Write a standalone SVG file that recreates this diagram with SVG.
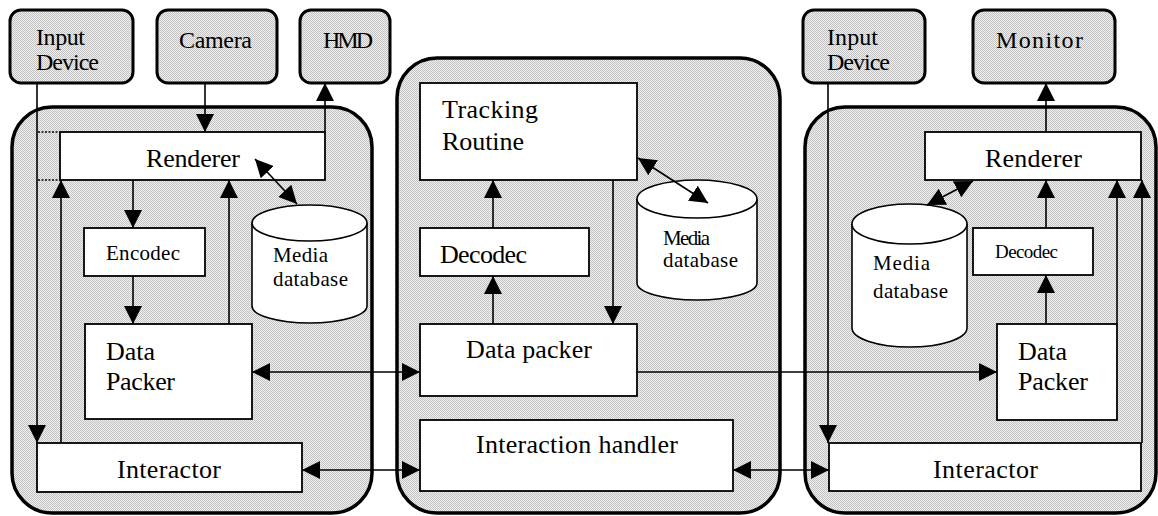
<svg xmlns="http://www.w3.org/2000/svg" width="1158" height="516" viewBox="0 0 1158 516">
  <defs>
    <!-- halftone grey fill used for devices and site containers -->
    <pattern id="dither" width="2" height="2" patternUnits="userSpaceOnUse">
      <rect width="2" height="2" fill="#f0f0f0"/>
      <rect width="1" height="1" fill="#c2c2c2"/>
      <rect x="1" y="1" width="1" height="1" fill="#c2c2c2"/>
    </pattern>
    <marker id="arrow" viewBox="0 0 18 18" refX="18" refY="9" markerWidth="18" markerHeight="18" markerUnits="userSpaceOnUse" orient="auto-start-reverse">
      <path d="M0,0 L18,9 L0,18 Z" fill="#000"/>
    </marker>
  </defs>
  <style>
    .site { fill: url(#dither); stroke: #000; stroke-width: 3.5; }
    .dev { fill: url(#dither); stroke: #000; stroke-width: 3; }
    .box { fill: #fff; stroke: #000; stroke-width: 1.8; }
    .db { fill: #fff; stroke: #000; stroke-width: 1.6; }
    .arr { fill: none; stroke: #000; stroke-width: 1.6; marker-end: url(#arrow); }
    .arr2 { fill: none; stroke: #000; stroke-width: 1.6; marker-start: url(#arrow); marker-end: url(#arrow); }
    .dot { fill: none; stroke: #000; stroke-width: 1.5; stroke-dasharray: 2 1.5; }
    text { font-family: "Liberation Serif", "DejaVu Serif", "Times New Roman", serif; font-size: 26px; fill: #000; }
    .dv { font-size: 24px; }
    .sm { font-size: 21px; }
    .xs { font-size: 19px; }
  </style>

  <rect width="1158" height="516" fill="#fff"/>

  <!-- site containers -->
  <g id="site-left"><rect class="site" x="12" y="107" width="360" height="406" rx="40" ry="40"/></g>
  <g id="site-server"><rect class="site" x="397" y="58" width="383" height="455" rx="40" ry="40"/></g>
  <g id="site-right"><rect class="site" x="805" y="107" width="351" height="406" rx="40" ry="40"/></g>

  <!-- external devices -->
  <g id="input-device-left">
    <rect class="dev" x="10" y="10" width="123" height="73" rx="11"/>
    <text class="dv" x="36" y="45" textLength="49">Input</text>
    <text class="dv" x="36" y="70" textLength="63">Device</text>
  </g>
  <g id="camera">
    <rect class="dev" x="157" y="10" width="120" height="73" rx="11"/>
    <text class="dv" x="179" y="48" textLength="73">Camera</text>
  </g>
  <g id="hmd">
    <rect class="dev" x="300" y="10" width="90" height="73" rx="11"/>
    <text class="dv" x="323" y="48" textLength="50">HMD</text>
  </g>
  <g id="input-device-right">
    <rect class="dev" x="803" y="10" width="122" height="73" rx="11"/>
    <text class="dv" x="827" y="45" textLength="51">Input</text>
    <text class="dv" x="827" y="70" textLength="63">Device</text>
  </g>
  <g id="monitor">
    <rect class="dev" x="973" y="10" width="142" height="73" rx="11"/>
    <text class="dv" x="996" y="48" textLength="87">Monitor</text>
  </g>

  <!-- left site -->
  <g id="renderer-left">
    <rect class="box" x="60" y="132" width="265" height="48"/>
    <text x="146" y="167" textLength="94">Renderer</text>
  </g>
  <g id="encodec">
    <rect class="box" x="84" y="228" width="121" height="48"/>
    <text class="sm" x="106" y="260" textLength="74">Encodec</text>
  </g>
  <g id="media-db-left">
    <path class="db" d="M252,223 A57.5,18 0 0 1 367,223 L367,306 A57.5,17 0 0 1 252,306 Z"/>
    <path class="db" d="M252,223 A57.5,18 0 0 0 367,223"/>
    <text class="sm" x="273" y="262" textLength="55">Media</text>
    <text class="sm" x="273" y="286" textLength="75">database</text>
  </g>
  <g id="data-packer-left">
    <rect class="box" x="85" y="324" width="167" height="95"/>
    <text x="106" y="360" textLength="49">Data</text>
    <text x="106" y="390" textLength="69">Packer</text>
  </g>
  <g id="interactor-left">
    <rect class="box" x="37" y="443" width="265" height="49"/>
    <text x="117" y="478" textLength="104">Interactor</text>
  </g>

  <!-- server site -->
  <g id="tracking-routine">
    <rect class="box" x="420" y="83" width="217" height="97"/>
    <text x="442" y="118" textLength="96">Tracking</text>
    <text x="442" y="150" textLength="82">Routine</text>
  </g>
  <g id="decodec-server">
    <rect class="box" x="420" y="228" width="169" height="48"/>
    <text x="440" y="263" textLength="87">Decodec</text>
  </g>
  <g id="media-db-server">
    <path class="db" d="M637,199 A60,19 0 0 1 757,199 L757,283 A60,17 0 0 1 637,283 Z"/>
    <path class="db" d="M637,199 A60,19 0 0 0 757,199"/>
    <text class="sm" x="663" y="245" textLength="47">Media</text>
    <text class="sm" x="663" y="267" textLength="75">database</text>
  </g>
  <g id="data-packer-server">
    <rect class="box" x="420" y="324" width="217" height="72"/>
    <text x="466" y="358" textLength="126">Data packer</text>
  </g>
  <g id="interaction-handler">
    <rect class="box" x="420" y="420" width="313" height="71"/>
    <text x="476" y="453" textLength="202">Interaction handler</text>
  </g>

  <!-- right site -->
  <g id="renderer-right">
    <rect class="box" x="925" y="132" width="216" height="48"/>
    <text x="985" y="167" textLength="97">Renderer</text>
  </g>
  <g id="decodec-right">
    <rect class="box" x="973" y="228" width="120" height="47"/>
    <text class="xs" x="995" y="258" textLength="63">Decodec</text>
  </g>
  <g id="media-db-right">
    <path class="db" d="M852,224 A57.5,20 0 0 1 967,224 L967,328 A57.5,19 0 0 1 852,328 Z"/>
    <path class="db" d="M852,224 A57.5,20 0 0 0 967,224"/>
    <text class="sm" x="873" y="270" textLength="57">Media</text>
    <text class="sm" x="873" y="298" textLength="75">database</text>
  </g>
  <g id="data-packer-right">
    <rect class="box" x="997" y="324" width="120" height="96"/>
    <text x="1018" y="360" textLength="49">Data</text>
    <text x="1018" y="390" textLength="70">Packer</text>
  </g>
  <g id="interactor-right">
    <rect class="box" x="829" y="443" width="312" height="48"/>
    <text x="933" y="478" textLength="105">Interactor</text>
  </g>

  <!-- connectors -->
  <g id="connectors">
    <!-- left site -->
    <path class="dot" d="M38,132 H60 M38,180 H60"/>
    <path class="arr" d="M37,83 V443"/>
    <path class="arr" d="M205,83 V132"/>
    <path class="arr" d="M325,132 V83"/>
    <path class="arr" d="M61,443 V180"/>
    <path class="arr" d="M133,180 V228"/>
    <path class="arr" d="M133,276 V324"/>
    <path class="arr" d="M229,324 V180"/>
    <path class="arr2" d="M255,159 L297,204"/>
    <path class="arr2" d="M252,372 H420"/>
    <path class="arr2" d="M302,470 H420"/>

    <!-- server site -->
    <path class="arr" d="M493,324 V276"/>
    <path class="arr" d="M493,228 V180"/>
    <path class="arr" d="M613,180 V324"/>
    <path class="arr2" d="M638,158 L708,203"/>
    <path class="arr" d="M637,372 H997"/>
    <path class="arr2" d="M733,470 H829"/>

    <!-- right site -->
    <path class="arr" d="M828,83 V443"/>
    <path class="arr" d="M1046,132 V83"/>
    <path class="arr" d="M1046,324 V275"/>
    <path class="arr" d="M1046,228 V180"/>
    <path class="arr" d="M1117,324 V180"/>
    <path class="arr" d="M1142,443 V180"/>
    <path class="arr2" d="M973,181 L927,205"/>
  </g>
</svg>
